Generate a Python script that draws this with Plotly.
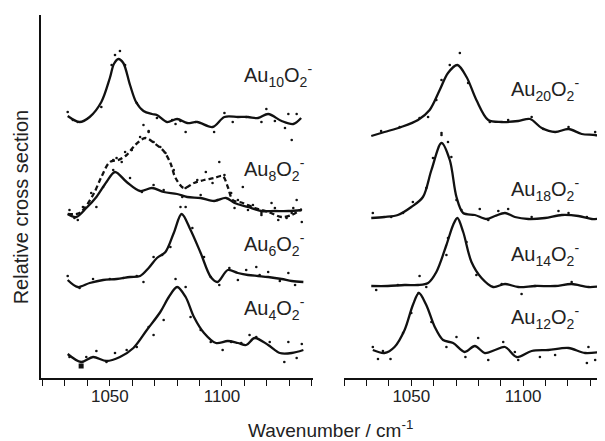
import numpy as np
import plotly.graph_objects as go

# ---------------- data (wavenumber / cm-1, relative cross section) ----------------
labels_left = ["Au<sub>10</sub>O<sub>2</sub><sup>-</sup>", "Au<sub>8</sub>O<sub>2</sub><sup>-</sup>",
               "Au<sub>6</sub>O<sub>2</sub><sup>-</sup>", "Au<sub>4</sub>O<sub>2</sub><sup>-</sup>"]
labels_right = ["Au<sub>20</sub>O<sub>2</sub><sup>-</sup>", "Au<sub>18</sub>O<sub>2</sub><sup>-</sup>",
                "Au<sub>14</sub>O<sub>2</sub><sup>-</sup>", "Au<sub>12</sub>O<sub>2</sub><sup>-</sup>"]
offsets_left = [256, 165, 96, 22]
offsets_right = [245, 161, 92, 27]

# Au10O2-
au10_w = [1031.2, 1036.5, 1041.0, 1046.2, 1050.0, 1051.8, 1053.8, 1056.0, 1059.0, 1061.7, 1065.0, 1068.8, 1071.0,
          1075.5, 1080.0, 1084.5, 1089.0, 1095.8, 1101.1, 1107.1, 1111.6, 1116.1, 1120.6, 1126.6, 1131.8, 1135.3]
au10_i = [6, 0, 5, 20, 44, 58, 63, 59, 37, 20, 11, 8, 7, 0, 3, -1, 0, -5, 5, 5, 5, 4, 8, 1, -2, 4]
au10_dw = [1031.2, 1033.5, 1035.7, 1046.2, 1050.8, 1052.3, 1054.5, 1056.8, 1062.0, 1065.0, 1067.3, 1071.0, 1077.8,
           1079.3, 1081.5, 1083.8, 1088.3, 1096.5, 1101.1, 1104.8, 1110.8, 1117.6, 1119.8, 1123.6, 1128.1, 1129.6, 1133.3]
au10_di = [10, 2, 0, 15, 57, 67, 71, 57, 19, -3, -9, 4, 2, -2, 1, -10, 0, -10, 9, 0, 5, 0, 13, 1, -6, 8, 8]

# Au8O2- (solid and dashed)
au8_w = [1031.2, 1035.0, 1039.5, 1044.0, 1048.5, 1052.3, 1057.5, 1063.5, 1068.8, 1074.0, 1080.0, 1084.5, 1090.5,
         1096.5, 1101.8, 1105.6, 1111.6, 1117.6, 1123.6, 1129.6, 1135.6]
au8_i = [-1, -4, 5, 16, 31, 41, 31, 22, 25, 21, 19, 16, 15, 12, 15, 10, 6, 2, 2, 2, 3]
au8b_w = [1031.2, 1036.5, 1042.5, 1046.2, 1050.0, 1053.8, 1057.5, 1061.3, 1065.8, 1070.3, 1074.0, 1077.0, 1079.3,
          1083.0, 1087.5, 1092.0, 1096.5, 1100.3, 1102.6, 1104.8, 1109.3, 1114.6, 1120.6, 1126.6, 1131.1, 1135.6]
au8b_i = [-1, 0, 18, 36, 51, 53, 58, 68, 75, 69, 62, 50, 35, 25, 30, 33, 35, 37, 26, 13, 10, 5, 1, -4, -2, 4]
au8_dw = [1032.0, 1034.2, 1035.7, 1038.0, 1041.7, 1044.0, 1047.0, 1051.5, 1059.0, 1064.3, 1069.5, 1074.0, 1082.3,
          1090.5, 1098.0, 1105.6, 1111.6, 1117.6, 1123.6, 1131.1]
au8_di = [3, -5, -7, 6, 20, 6, 26, 43, 35, 21, 28, 23, 16, 18, 13, 5, 3, -2, 5, 0]
au8b_dw = [1051.5, 1053.0, 1055.3, 1056.8, 1059.8, 1063.5, 1067.3, 1069.5, 1072.5, 1074.8, 1078.5, 1083.8, 1089.0,
           1092.8, 1095.8, 1098.8, 1101.1, 1104.1, 1109.3, 1107.1, 1113.8, 1117.6, 1122.1, 1125.1, 1128.8, 1131.8,
           1133.3, 1135.6, 1131.1]
au8b_di = [53, 55, 51, 61, 63, 76, 81, 71, 66, 60, 43, 25, 33, 41, 30, 51, 38, 20, 26, 13, 8, 0, 10, -7, -5, 5,
           13, -9, 73]

# Au6O2-
au6_w = [1031.2, 1035.7, 1041.0, 1047.0, 1053.0, 1059.0, 1063.5, 1067.3, 1071.0, 1074.8, 1078.5, 1082.0, 1086.0,
         1090.5, 1095.0, 1098.0, 1102.6, 1107.1, 1111.6, 1116.1, 1120.6, 1126.6, 1131.1, 1136.3]
au6_i = [2, -5, -1, 2, 3, 5, 6, 14, 24, 30, 49, 68, 52, 29, 5, 0, 12, 9, 7, 6, 5, 3, 1, 0]
au6_dw = [1031.2, 1036.5, 1042.5, 1050.0, 1056.0, 1062.0, 1065.0, 1069.5, 1073.3, 1077.0, 1081.5, 1083.8, 1086.8,
          1092.0, 1095.0, 1098.8, 1103.3, 1107.1, 1110.8, 1115.3, 1116.8, 1120.6, 1125.8, 1129.6, 1132.6]
au6_di = [6, -6, 3, 3, 4, 6, 0, 25, 27, 35, 75, 75, 54, 25, 5, -3, 14, 2, 12, 15, 7, 10, 1, 9, -3]

# Au4O2-
au4_w = [1031.2, 1037.2, 1042.5, 1048.5, 1054.5, 1060.5, 1066.5, 1072.5, 1076.3, 1080.0, 1083.8, 1087.5, 1092.0,
         1097.3, 1102.6, 1107.1, 1110.8, 1114.6, 1120.6, 1125.8, 1131.1, 1136.3]
au4_i = [2, -6, -1, -5, -1, 8, 26, 44, 59, 69, 59, 39, 23, 13, 15, 13, 11, 18, 11, 3, 3, 6]
au4_dw = [1032.0, 1037.2, 1039.5, 1044.0, 1048.5, 1052.3, 1057.5, 1062.0, 1067.3, 1069.5, 1074.0, 1079.3, 1083.8,
          1086.0, 1090.5, 1095.0, 1100.3, 1104.1, 1108.6, 1112.3, 1115.3, 1121.3, 1127.8, 1129.6, 1133.3, 1135.6]
au4_di = [-1, -10, -1, 5, -6, 3, 6, 9, 29, 21, 36, 77, 69, 39, 26, 14, 6, 14, 13, 21, 19, 14, -6, 14, -2, 12]

# Au20O2-
au20_w = [1032.1, 1038.0, 1045.5, 1053.0, 1058.2, 1062.7, 1066.4, 1070.6, 1074.7, 1079.1, 1084.4, 1090.4, 1097.8,
          1103.1, 1108.3, 1114.3, 1120.3, 1126.2, 1132.2, 1135.9]
au20_i = [-3, 1, 6, 13, 23, 43, 60, 68, 56, 33, 13, 11, 12, 14, 5, 1, 4, -1, -2, -4]
au20_dw = [1036.5, 1044.8, 1053.7, 1057.5, 1061.2, 1063.5, 1067.2, 1071.7, 1075.4, 1063.5, 1085.1, 1093.3, 1103.8,
           1109.0, 1120.3, 1132.2, 1134.5]
au20_di = [2, 6, 15, 16, 33, 53, 68, 80, 50, 0, 11, 13, 16, 4, 6, 1, -1]

# Au18O2-
au18_w = [1032.1, 1038.0, 1044.0, 1050.0, 1055.2, 1059.0, 1063.5, 1067.2, 1070.2, 1073.2, 1078.4, 1083.6, 1087.4,
          1091.9, 1096.3, 1102.3, 1109.8, 1117.3, 1124.7, 1130.7, 1135.9]
au18_i = [-1, 0, 2, 10, 20, 47, 74, 57, 20, 4, 2, -2, 1, 4, 0, -2, -1, 2, 1, -2, -1]
au18_dw = [1032.8, 1041.0, 1046.3, 1050.7, 1056.7, 1059.7, 1063.5, 1066.4, 1067.9, 1070.2, 1072.4, 1080.6, 1084.4,
           1088.9, 1093.3, 1103.8, 1115.8, 1120.3, 1128.5, 1134.5]
au18_di = [4, 0, 4, 15, 29, 59, 82, 75, 60, 17, 7, 8, -3, 6, 8, 0, 6, 4, 0, -3]

# Au14O2-
au14_w = [1032.1, 1039.5, 1047.0, 1053.0, 1057.5, 1061.2, 1065.7, 1068.7, 1070.6, 1073.2, 1076.9, 1081.4, 1086.6,
          1091.9, 1097.8, 1105.3, 1114.3, 1121.7, 1129.2, 1135.9]
au14_i = [0, 0, 1, 1, 3, 14, 41, 61, 68, 54, 24, 8, -1, 2, -1, 0, 0, 2, -1, 0]
au14_dw = [1034.3, 1044.0, 1053.7, 1056.7, 1065.7, 1066.4, 1074.7, 1079.1, 1090.4, 1099.3, 1105.3, 1121.7, 1134.5]
au14_di = [-4, 1, 10, -1, 31, 48, 44, 11, 2, -8, 0, 4, -2]

# Au12O2-
au12_w = [1032.8, 1038.0, 1042.5, 1047.0, 1050.7, 1053.4, 1056.7, 1060.5, 1064.2, 1068.7, 1073.9, 1078.4, 1082.9,
          1087.4, 1091.9, 1097.1, 1103.8, 1111.3, 1120.3, 1127.7, 1136.7]
au12_i = [1, -2, 4, 21, 46, 58, 46, 24, 11, 8, -1, 5, -2, 1, 4, -6, 0, 1, 3, -2, 0]
au12_dw = [1032.8, 1035.1, 1037.3, 1040.7, 1046.3, 1050.0, 1053.3, 1059.0, 1065.7, 1070.2, 1074.2, 1079.9, 1084.4,
           1091.1, 1096.3, 1097.8, 1107.5, 1114.3, 1129.2, 1128.5, 1132.2]
au12_di = [4, -8, 0, -8, 18, 38, 58, 29, 4, 14, -6, 13, -9, 9, -1, -9, -6, -4, 4, -12, -9]

x_ticks = [1050, 1100]

# ---------------- figure ----------------
BLACK = "#111111"
fig = go.Figure()


def add_spec(w, i, dw, di, off, xa, dash="solid"):
    fig.add_trace(go.Scatter(x=w, y=np.array(i) + off, mode="lines", xaxis=xa, yaxis="y",
                             line=dict(color=BLACK, width=2.3, shape="spline", smoothing=0.9, dash=dash),
                             showlegend=False, hoverinfo="skip"))
    fig.add_trace(go.Scatter(x=dw, y=np.array(di) + off, mode="markers", xaxis=xa, yaxis="y",
                             marker=dict(color=BLACK, size=2.6, line=dict(width=0)),
                             showlegend=False, hoverinfo="skip"))


add_spec(au10_w, au10_i, au10_dw, au10_di, offsets_left[0], "x")
add_spec(au8_w, au8_i, au8_dw, au8_di, offsets_left[1], "x")
add_spec(au8b_w, au8b_i, au8b_dw, au8b_di, offsets_left[1], "x", dash="5px,3px")
add_spec(au6_w, au6_i, au6_dw, au6_di, offsets_left[2], "x")
add_spec(au4_w, au4_i, au4_dw, au4_di, offsets_left[3], "x")
add_spec(au20_w, au20_i, au20_dw, au20_di, offsets_right[0], "x2")
add_spec(au18_w, au18_i, au18_dw, au18_di, offsets_right[1], "x2")
add_spec(au14_w, au14_i, au14_dw, au14_di, offsets_right[2], "x2")
add_spec(au12_w, au12_i, au12_dw, au12_di, offsets_right[3], "x2")

# larger dot in the Au4O2- baseline
fig.add_trace(go.Scatter(x=[au4_dw[1]], y=[au4_di[1] + offsets_left[3]], mode="markers", xaxis="x", yaxis="y",
                         marker=dict(color=BLACK, size=5, symbol="square"), showlegend=False, hoverinfo="skip"))

FONT = "Arial, Liberation Sans, Helvetica, sans-serif"
label_y_left = [303, 209, 134, 70]
label_y_right = [289, 189, 124, 61]
for lab, yy in zip(labels_left, label_y_left):
    fig.add_annotation(x=1109, y=yy, xref="x", yref="y", text=lab, showarrow=False,
                       xanchor="left", yanchor="middle", font=dict(family=FONT, size=20, color="#222"))
for lab, yy in zip(labels_right, label_y_right):
    fig.add_annotation(x=1093.5, y=yy, xref="x2", yref="y", text=lab, showarrow=False,
                       xanchor="left", yanchor="middle", font=dict(family=FONT, size=20, color="#222"))

fig.add_annotation(x=0.514, y=-0.14, xref="paper", yref="paper", text="Wavenumber / cm<sup>-1</sup>",
                   showarrow=False, xanchor="center", yanchor="middle", font=dict(family=FONT, size=19, color="#222"))
fig.add_annotation(x=-0.036, y=0.472, xref="paper", yref="paper", text="Relative cross section",
                   showarrow=False, textangle=-90, xanchor="center", yanchor="middle",
                   font=dict(family=FONT, size=20, color="#222"))

axis_common = dict(showgrid=False, zeroline=False, showline=True, linecolor=BLACK, linewidth=1.6,
                   ticks="outside", ticklen=6, tickwidth=1.4, tickcolor=BLACK, ticklabelstandoff=-4,
                   tickvals=x_ticks, tickfont=dict(family=FONT, size=17, color="#222"),
                   minor=dict(dtick=10, tick0=1020, ticks="outside", ticklen=6, tickwidth=1.4, tickcolor=BLACK))

# the page adds an 8px body margin, so the figure is 8px smaller and its margins are reduced to match
fig.update_layout(
    width=597, height=433,
    margin=dict(l=33, r=0, t=7, b=63),
    paper_bgcolor="white", plot_bgcolor="white",
    xaxis=dict(domain=[0, 0.4823], range=[1019.3, 1140.6], anchor="y", **axis_common),
    xaxis2=dict(domain=[0.5372, 1], range=[1019.9, 1136.6], anchor="y", **axis_common),
    yaxis=dict(range=[0, 363], showgrid=False, zeroline=False, showline=True, linecolor=BLACK, linewidth=1.6,
               showticklabels=False, ticks="", anchor="x"),
    showlegend=False,
)

fig.write_html("out.html")
